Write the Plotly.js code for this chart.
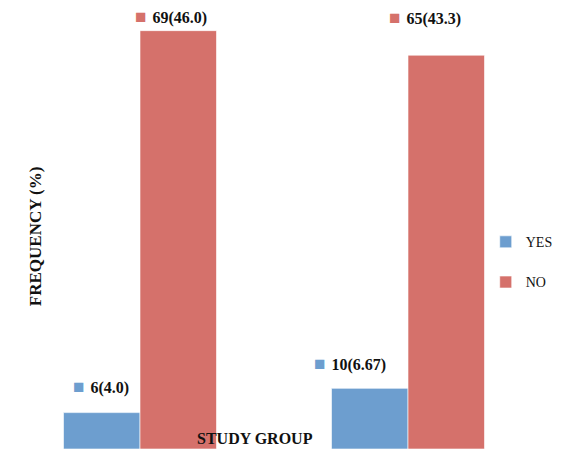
<!DOCTYPE html>
<html><head><meta charset="utf-8">
<script src="https://cdn.plot.ly/plotly-3.0.1.min.js"></script>
<style>body{margin:0;background:#fff}#chart{width:564px;height:449px}</style>
</head><body><div id="chart"></div>
<script>
const groups = ["Group 1", "Group 2"];
const yesPct = [4.0, 6.67];
const noPct = [46.0, 43.3];
const yesLabels = ["6(4.0)", "10(6.67)"];
const noLabels = ["69(46.0)", "65(43.3)"];

const BLUE = "#6d9ecf", RED = "#d5716b";
const FONT = "Liberation Serif, Times New Roman, serif";

const traces = [
  {type: "bar", name: "YES", x: groups, y: yesPct, legendgroup: "a",
   marker: {color: BLUE, line: {color: "rgba(255,255,255,0.6)", width: 1}}, hoverinfo: "skip"},
  {type: "bar", name: "NO", x: groups, y: noPct, legendgroup: "b",
   marker: {color: RED, line: {color: "rgba(255,255,255,0.6)", width: 1}}, hoverinfo: "skip"}
];

// label placement tweaks (category-unit x offsets, pixel y shifts)
const yesDx = [-0.144, -0.218], yesDy = [26, 25];
const noDx = [0.116, 0.063], noDy = [14, 38];

function lab(txt, color) {
  return '<span style="color:' + color + ';font-size:19px">■</span><span style="font-size:12px">\u00a0\u00a0</span><b>' + txt + '</b>';
}
const annotations = [];
groups.forEach((g, i) => {
  annotations.push({x: i + yesDx[i], y: yesPct[i], xref: "x", yref: "y", yshift: yesDy[i],
    text: lab(yesLabels[i], BLUE), showarrow: false, font: {family: FONT, size: 16, color: "#111"}});
  annotations.push({x: i + noDx[i], y: noPct[i], xref: "x", yref: "y", yshift: noDy[i],
    text: lab(noLabels[i], RED), showarrow: false, font: {family: FONT, size: 16, color: "#111"}});
});
annotations.push({text: "<b>FREQUENCY (%)</b>", textangle: -90, xref: "paper", yref: "paper",
  x: -0.0, xshift: 29, y: 0.474, showarrow: false, xanchor: "center", yanchor: "middle",
  font: {family: FONT, size: 17, color: "#111"}});
annotations.push({text: "<b>STUDY GROUP</b>", xref: "paper", yref: "paper", x: 0.465, y: 0,
  yshift: 11, showarrow: false, xanchor: "center", yanchor: "middle",
  font: {family: FONT, size: 16, color: "#111"}});

const layout = {
  width: 564, height: 449,
  margin: {l: 6, r: 22, t: 0, b: 0},
  paper_bgcolor: "#fff", plot_bgcolor: "#fff",
  barmode: "group", bargap: 0.429, bargroupgap: 0,
  xaxis: {type: "category", range: [-0.5, 1.5], showticklabels: false, showgrid: false,
          zeroline: false, showline: false, ticks: ""},
  yaxis: {range: [0, 49.37], visible: false, showgrid: false, zeroline: false},
  showlegend: true,
  legend: {x: 0.895, y: 0.416, xanchor: "left", yanchor: "middle", tracegroupgap: 19,
           font: {family: FONT, size: 14, color: "#111"}, bgcolor: "rgba(0,0,0,0)", itemwidth: 30},
  annotations: annotations
};
Plotly.newPlot("chart", traces, layout, {displayModeBar: false, staticPlot: true});
</script></body></html>
